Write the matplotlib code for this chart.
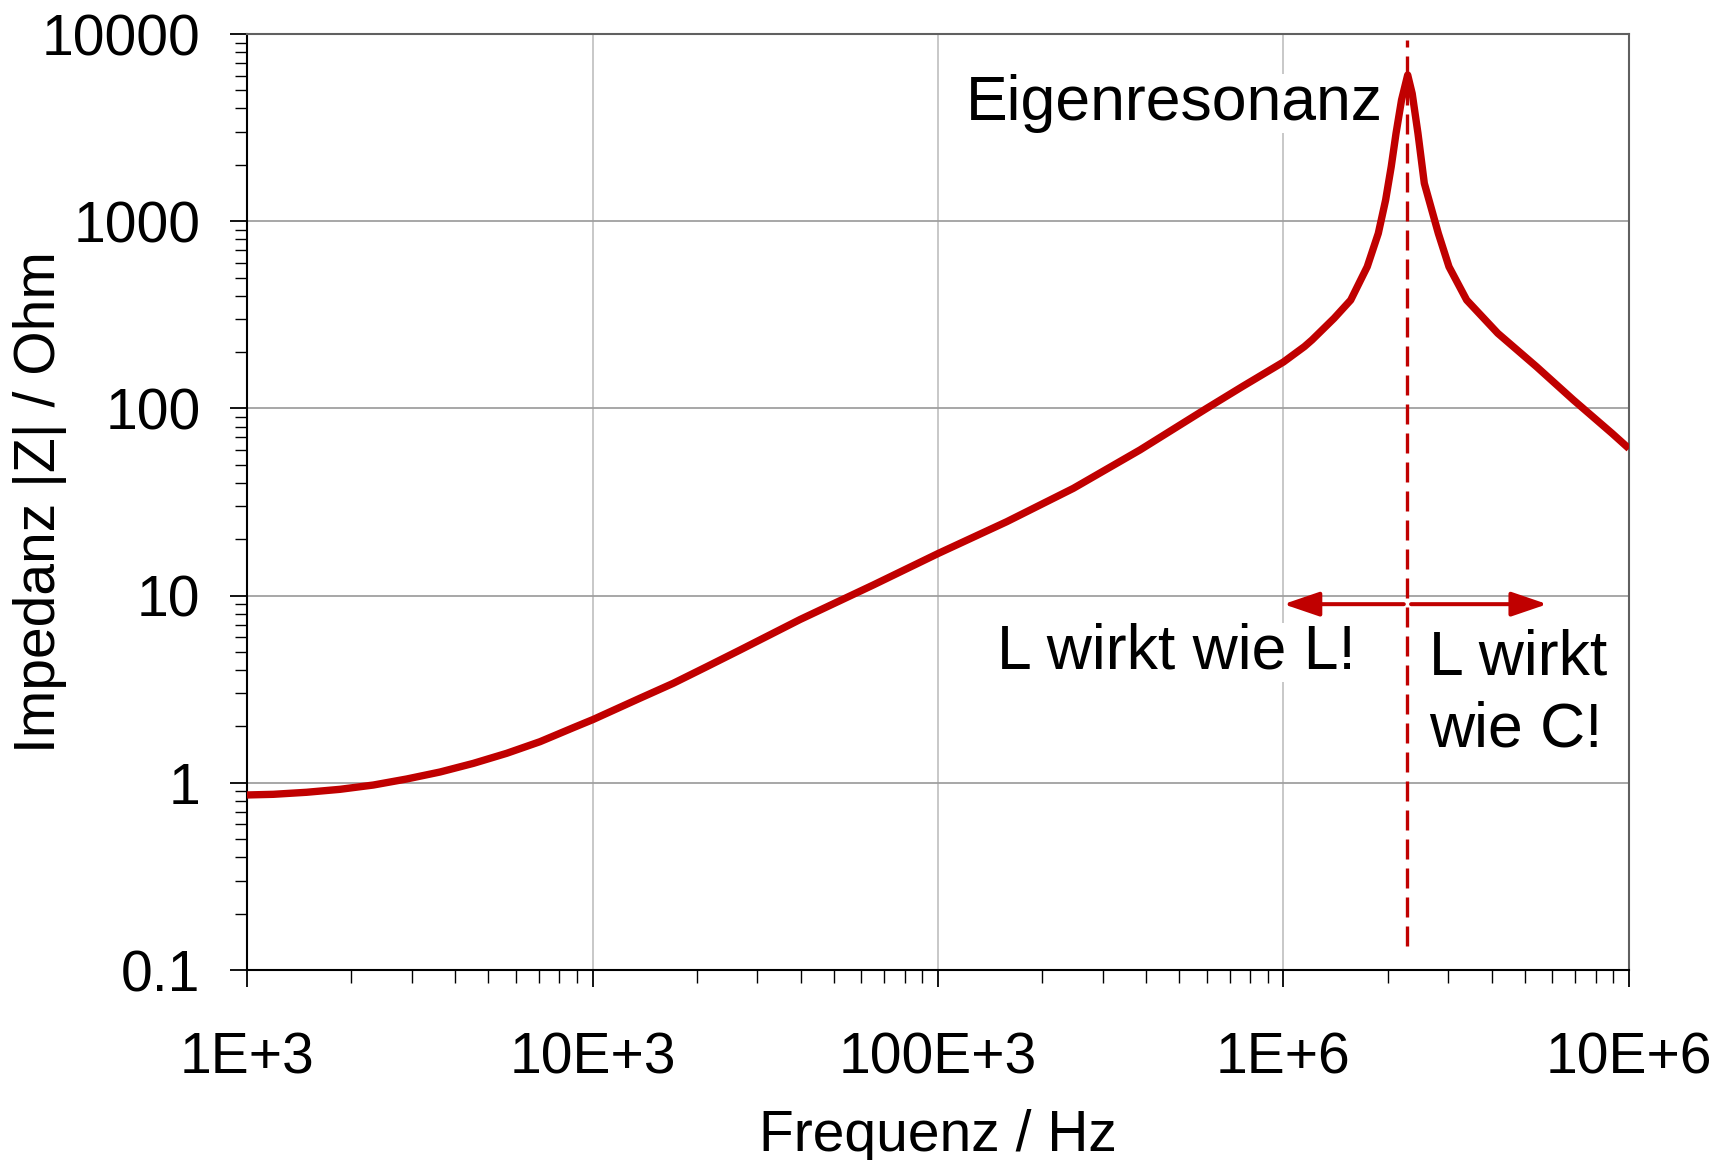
import matplotlib
matplotlib.use("Agg")
import matplotlib.pyplot as plt
from matplotlib.ticker import FixedLocator, FixedFormatter, LogLocator, NullFormatter
from matplotlib.patches import FancyArrowPatch

plt.rcParams['font.family'] = ['Liberation Sans', 'DejaVu Sans']

# ---- data ----
freq_hz = [1000, 1192, 1488, 1859, 2321, 2899, 3620, 4519, 5643, 7047, 8799,
           10050, 10990, 13720, 17130, 21410, 26730, 30530, 39870, 65000,
           1.002e5, 1.58e5, 2.464e5, 3.843e5, 5.99e5, 7.59e5,
           1.0e6, 1.15e6, 1.209e6, 1.401e6, 1.565e6, 1.747e6, 1.881e6,
           1.975e6, 2.05e6, 2.117e6, 2.196e6, 2.288e6,
           2.358e6, 2.45e6, 2.556e6, 2.806e6, 3.013e6, 3.39e6, 4.17e6,
           5.40e6, 6.90e6, 8.93e6, 1.0e7]
impedance_ohm = [0.861, 0.868, 0.890, 0.923, 0.973, 1.048, 1.142, 1.27, 1.437, 1.658, 1.97,
                 2.18, 2.35, 2.83, 3.40, 4.17, 5.12, 5.80, 7.45, 11.4,
                 16.8, 24.8, 37.4, 60, 100, 130.6,
                 177, 214, 232, 303, 379, 571, 861,
                 1297, 1954, 2948, 4440, 6040,
                 4800, 2948, 1594, 861, 571, 379, 252,
                 167, 111, 73.6, 61]

x_ticks = [1e3, 1e4, 1e5, 1e6, 1e7]
x_tick_labels = ["1E+3", "10E+3", "100E+3", "1E+6", "10E+6"]
y_ticks = [0.1, 1, 10, 100, 1000, 10000]
y_tick_labels = ["0.1", "1", "10", "100", "1000", "10000"]

resonance_hz = 2.28e6
resonance_line_z = [0.135, 9300]
arrow_z = 9.0
arrow_left = [2.23e6, 1.0e6]
arrow_right = [2.34e6, 5.8e6]

RED = '#C00000'

fig = plt.figure(figsize=(17.28, 11.6), dpi=100)
ax = fig.add_axes([247 / 1728, 1 - 970 / 1160, (1629 - 247) / 1728, (970 - 34) / 1160])

ax.set_xscale('log')
ax.set_yscale('log')
ax.set_xlim(1e3, 1e7)
ax.set_ylim(0.1, 1e4)

ax.xaxis.set_major_locator(FixedLocator(x_ticks))
ax.xaxis.set_major_formatter(FixedFormatter(x_tick_labels))
ax.yaxis.set_major_locator(FixedLocator(y_ticks))
ax.yaxis.set_major_formatter(FixedFormatter(y_tick_labels))
ax.xaxis.set_minor_locator(LogLocator(base=10, subs=range(2, 10), numticks=50))
ax.yaxis.set_minor_locator(LogLocator(base=10, subs=range(2, 10), numticks=50))
ax.xaxis.set_minor_formatter(NullFormatter())
ax.yaxis.set_minor_formatter(NullFormatter())

ax.tick_params(axis='both', which='major', direction='out', length=12.5, width=1.3,
               color='black', labelsize=41, labelcolor='black')
ax.tick_params(axis='both', which='minor', direction='out', length=9, width=1.0,
               color='black')
ax.tick_params(axis='x', which='major', pad=32)
ax.tick_params(axis='y', which='major', pad=21)

ax.set_axisbelow(True)
ax.xaxis.grid(True, which='major', color='#c4c4c4', lw=1.3)
ax.yaxis.grid(True, which='major', color='#a0a0a0', lw=1.3)

for s in ['left', 'bottom']:
    ax.spines[s].set_color('black')
    ax.spines[s].set_linewidth(1.5)
for s in ['top', 'right']:
    ax.spines[s].set_color('#606060')
    ax.spines[s].set_linewidth(1.5)

ax.plot(freq_hz, impedance_ohm, color=RED, lw=5.3, solid_capstyle='butt',
        solid_joinstyle='round', zorder=5)

ax.plot([resonance_hz, resonance_hz], resonance_line_z, color=RED, lw=2.4,
        linestyle=(0, (6, 2.7)), zorder=4)

for tail, tip in [arrow_left, arrow_right]:
    ax.add_patch(FancyArrowPatch((tail, arrow_z), (tip, arrow_z),
                                 arrowstyle='-|>,head_length=22,head_width=7.5',
                                 mutation_scale=1, lw=2.9, color=RED,
                                 shrinkA=0, shrinkB=0, zorder=4))

white_box = dict(facecolor='white', edgecolor='none', pad=0)
ax.text(1.94e6, 3475, 'Eigenresonanz', fontsize=45, ha='right', va='baseline',
        bbox=white_box, zorder=3)
ax.text(1.62e6, 4.06, 'L wirkt wie L!', fontsize=45, ha='right', va='baseline',
        bbox=white_box, zorder=3)
ax.text(2.64e6, 3.81, 'L wirkt', fontsize=45, ha='left', va='baseline', zorder=3)
ax.text(2.64e6, 1.57, 'wie C!', fontsize=45, ha='left', va='baseline', zorder=3)

ax.set_xlabel('Frequenz / Hz', fontsize=41)
ax.set_ylabel('Impedanz |Z| / Ohm', fontsize=41)
ax.xaxis.set_label_coords(0.5, -0.1485)
ax.yaxis.set_label_coords(-0.130, 0.5)

fig.savefig('out.png', dpi=100)
